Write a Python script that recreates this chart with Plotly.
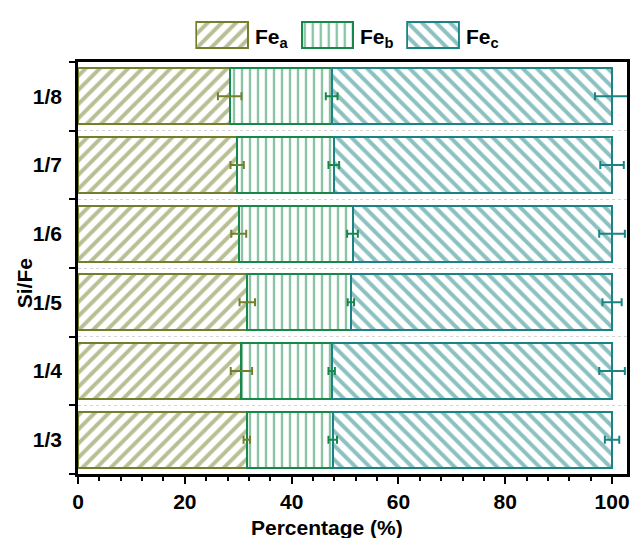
import plotly.graph_objects as go

# ---- data ----
ratios = ['1/3', '1/4', '1/5', '1/6', '1/7', '1/8']
fe_a = [31.6, 30.6, 31.7, 30.1, 29.8, 28.4]
fe_b = [16.1, 16.9, 19.4, 21.3, 18.1, 19.1]
fe_c = [52.3, 52.5, 48.9, 48.6, 52.1, 52.5]
err_a = [0.6, 2.0, 1.45, 1.4, 1.25, 2.2]
err_b = [0.8, 0.6, 0.6, 1.0, 1.0, 1.1]
err_c = [1.35, 2.4, 1.8, 2.4, 2.2, 3.2]
series_names = ['Fe<sub>a</sub>', 'Fe<sub>b</sub>', 'Fe<sub>c</sub>']

# ---- style ----
colors = ['#737F2C', '#17874A', '#1B8383']
shapes = ['/', '|', '\\']
psizes = [10, 8, 10]
psolid = [0.4, 0.3, 0.4]
FONT = 'Liberation Sans, Arial, sans-serif'
FS = 21

W, H = 633, 538
ML, MR, MT, MB = 78, 3, 10, 64
PW = W - ML - MR
PH = H - MT - MB
plot_top_px = 62
main_top = (H - MB - plot_top_px) / PH

def px_x(p):
    return (p - ML) / PW

def px_y(p):
    return (H - MB - p) / PH

fig = go.Figure()
values = [fe_a, fe_b, fe_c]
errs = [err_a, err_b, err_c]
for i in range(3):
    fig.add_trace(go.Bar(
        y=ratios, x=values[i], orientation='h', name=series_names[i],
        marker=dict(color='white', line=dict(color=colors[i], width=2),
                    pattern=dict(shape=shapes[i], fgcolor=colors[i], bgcolor='white',
                                 size=psizes[i], solidity=psolid[i])),
        showlegend=False, xaxis='x', yaxis='y'))

# error bars drawn on top, at the end of each stacked segment
cum = [0.0] * len(ratios)
for i in range(3):
    cum = [c + v for c, v in zip(cum, values[i])]
    fig.add_trace(go.Scatter(
        y=ratios, x=cum, mode='markers', marker=dict(size=1, opacity=0),
        error_x=dict(type='data', array=errs[i], color=colors[i], thickness=2, width=4),
        showlegend=False, hoverinfo='skip', xaxis='x', yaxis='y', cliponaxis=True))

# ---- custom legend swatches (each on its own tiny axes) ----
leg_x0, leg_step, sw_w = 197, 106, 52
leg_y0, leg_y1 = 22, 48
layout_axes = {}
annotations = []
for i in range(3):
    ax = i + 2
    x0 = leg_x0 + i * leg_step
    fig.add_trace(go.Bar(
        x=[1], y=[0], orientation='h', width=1, showlegend=False, hoverinfo='skip',
        marker=dict(color='white', line=dict(color=colors[i], width=2),
                    pattern=dict(shape=shapes[i], fgcolor=colors[i], bgcolor='white',
                                 size=psizes[i], solidity=psolid[i])),
        xaxis=f'x{ax}', yaxis=f'y{ax}'))
    layout_axes[f'xaxis{ax}'] = dict(domain=[px_x(x0 - 1), px_x(x0 + sw_w + 1)],
                                     range=[-0.02, 1.02], visible=False, anchor=f'y{ax}')
    layout_axes[f'yaxis{ax}'] = dict(domain=[px_y(leg_y1 + 1), px_y(leg_y0 - 1)],
                                     range=[-0.54, 0.54], visible=False, anchor=f'x{ax}')
    annotations.append(dict(text=f'<b>{series_names[i]}</b>', xref='paper', yref='paper',
                            x=px_x(x0 + sw_w + 5), y=px_y(38), xanchor='left', yanchor='middle',
                            showarrow=False, font=dict(family=FONT, size=FS, color='black')))

annotations.append(dict(text='<b>Si/Fe</b>', xref='paper', yref='paper', x=px_x(24), y=px_y(283),
                        textangle=-90, showarrow=False, xanchor='center', yanchor='middle',
                        font=dict(family=FONT, size=FS, color='black')))
annotations.append(dict(text='<b>Percentage (%)</b>', xref='paper', yref='paper', x=px_x(328),
                        y=px_y(527), showarrow=False, xanchor='center', yanchor='middle',
                        font=dict(family=FONT, size=FS, color='black')))

fig.update_layout(
    width=W, height=H, margin=dict(l=ML, r=MR, t=MT, b=MB),
    paper_bgcolor='white', plot_bgcolor='white',
    barmode='stack', bargap=0.185,
    font=dict(family=FONT, size=FS, color='black'),
    xaxis=dict(domain=[0, 1], range=[0, 102.8], dtick=20, tick0=0,
               ticks='outside', ticklen=7, tickwidth=2, tickcolor='black',
               minor=dict(dtick=4, ticks='outside', ticklen=4, tickwidth=2, tickcolor='black'),
               showline=True, linecolor='black', linewidth=2.5, mirror=True,
               showgrid=False, zeroline=False, anchor='y', ticklabelstandoff=0,
               tickfont=dict(family=FONT, size=FS, color='black', weight='bold')),
    yaxis=dict(domain=[0, main_top], type='category', categoryorder='array',
               categoryarray=ratios, range=[-0.5, 5.5], tickson='boundaries',
               ticks='outside', ticklen=6, tickwidth=2, tickcolor='black',
               showline=True, linecolor='black', linewidth=2.5, mirror=True,
               showgrid=True, gridcolor='#d4d4d4', griddash='dot', gridwidth=1,
               zeroline=False, anchor='x', ticklabelstandoff=9,
               tickfont=dict(family=FONT, size=FS, color='black', weight='bold')),
    annotations=annotations,
    **layout_axes)

fig.write_html('out.html')
